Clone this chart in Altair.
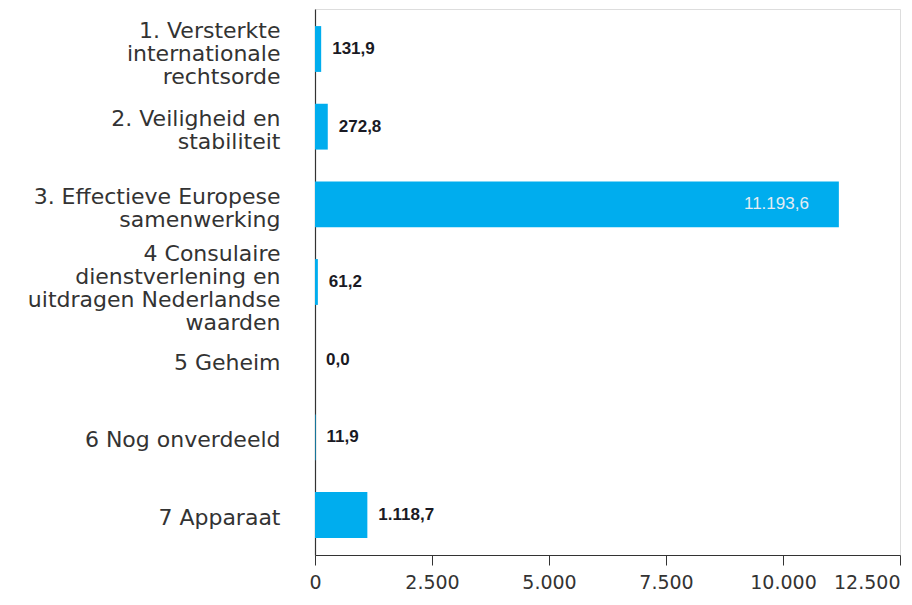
import altair as alt
import pandas as pd

categories = [
    "1. Versterkte|internationale|rechtsorde",
    "2. Veiligheid en|stabiliteit",
    "3. Effectieve Europese|samenwerking",
    "4 Consulaire|dienstverlening en|uitdragen Nederlandse|waarden",
    "5 Geheim",
    "6 Nog onverdeeld",
    "7 Apparaat",
]
values = [131.9, 272.8, 11193.6, 61.2, 0.0, 11.9, 1118.7]
inside = [False, False, True, False, False, False, False]
x_ticks = [0, 2500, 5000, 7500, 10000, 12500]


def nl(v):
    s = f"{v:,.1f}"
    return s.replace(",", "#").replace(".", ",").replace("#", ".")


df = pd.DataFrame({
    "cat": categories,
    "value": values,
    "label": [nl(v) for v in values],
    "inside": inside,
})

y = alt.Y(
    "cat:N",
    sort=categories,
    scale=alt.Scale(paddingInner=0.41, paddingOuter=0.22),
    axis=alt.Axis(
        title=None,
        ticks=False,
        domain=True,
        domainColor="#333333",
        domainWidth=1.2,
        labelExpr="split(datum.label, '|')",
        labelFont="DejaVu Sans",
        labelFontSize=22,
        labelLineHeight=23,
        labelColor="#333333",
        labelPadding=35,
        labelLimit=400,
        labelOffset=alt.expr("-(length(split(datum.label, '|')) - 1) * 10.5 + 3"),
    ),
)

x = alt.X(
    "value:Q",
    scale=alt.Scale(domain=[0, 12500], nice=False),
    axis=alt.Axis(
        title=None,
        values=x_ticks,
        grid=False,
        domainColor="#333333",
        domainWidth=1.2,
        tickColor="#333333",
        tickSize=10,
        labelPadding=8,
        labelFont="DejaVu Sans",
        labelFontSize=19,
        labelColor="#333333",
        labelExpr="replace(format(datum.value, ','), ',', '.')",
        labelAlign=alt.expr("datum.value == 12500 ? 'right' : 'center'"),
    ),
)

base = alt.Chart(df)

bars = base.mark_bar(color="#00ADEE").encode(x=x, y=y)

outside_text = base.transform_filter("!datum.inside").mark_text(
    align="left", baseline="middle", dx=11,
    font="Liberation Sans", fontSize=17, fontWeight="bold", color="#1a1a24",
).encode(x="value:Q", y=alt.Y("cat:N", sort=categories), text="label:N")

inside_text = base.transform_filter("datum.inside").mark_text(
    align="right", baseline="middle", dx=-30,
    font="Liberation Sans", fontSize=17, color="#e4ecf2",
).encode(x="value:Q", y=alt.Y("cat:N", sort=categories), text="label:N")

chart = (
    alt.layer(bars, outside_text, inside_text)
    .properties(
        width=585,
        height=546,
        autosize=alt.AutoSizeParams(type="none"),
        padding={"left": 307, "top": 1, "right": 4, "bottom": 42},
    )
    .configure_view(stroke=None)
    .configure(background="white")
)

chart.save("out.html", embed_options={"renderer": "svg", "actions": False})
